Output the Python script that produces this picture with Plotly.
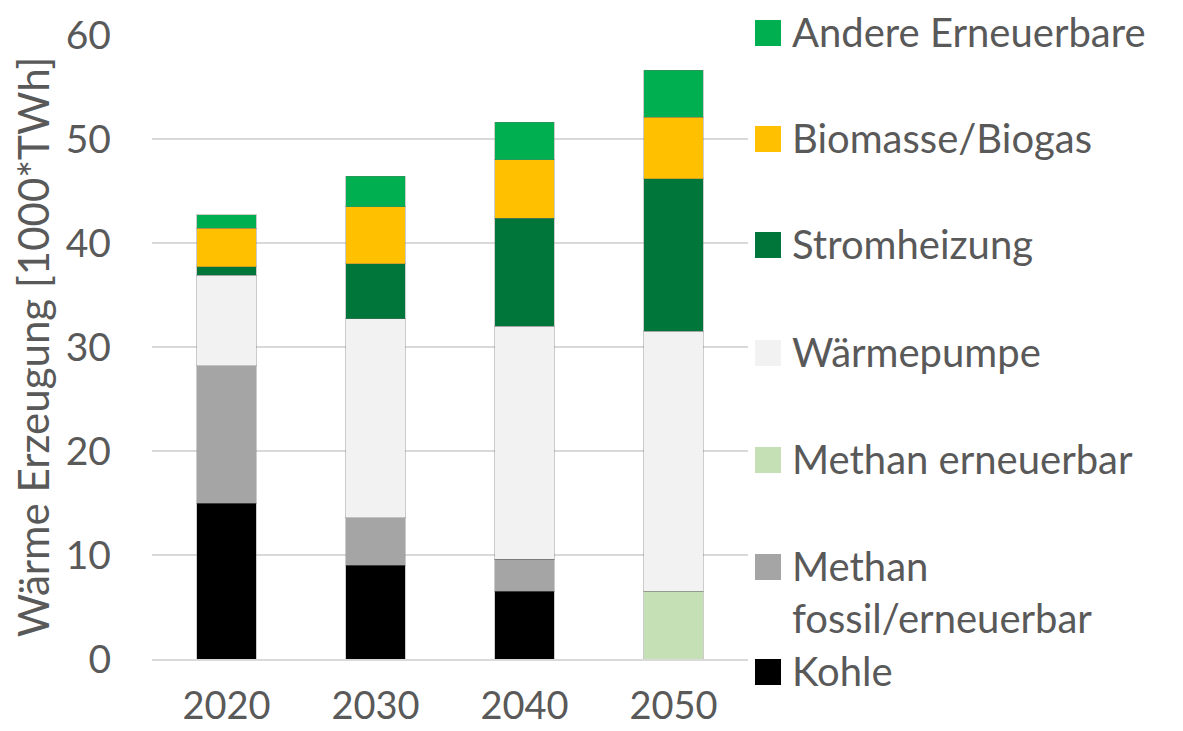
import plotly.graph_objects as go

years = ["2020", "2030", "2040", "2050"]
kohle = [15.0, 9.0, 6.5, 0.0]
methan_fossil = [13.2, 4.6, 3.1, 0.0]
methan_erneuerbar = [0.0, 0.0, 0.0, 6.5]
waermepumpe = [8.7, 19.1, 22.4, 25.0]
stromheizung = [0.8, 5.3, 10.4, 14.7]
biomasse = [3.7, 5.5, 5.6, 5.9]
andere = [1.3, 2.9, 3.6, 4.5]

series = [
    ("Kohle", kohle, "#000000"),
    ("Methan<br>fossil/erneuerbar", methan_fossil, "#A5A5A5"),
    ("Methan erneuerbar", methan_erneuerbar, "#C5E0B4"),
    ("Wärmepumpe", waermepumpe, "#F2F2F2"),
    ("Stromheizung", stromheizung, "#00763A"),
    ("Biomasse/Biogas", biomasse, "#FFC000"),
    ("Andere Erneuerbare", andere, "#00B050"),
]
# legend rows (top to bottom), vertical page-pixel centres of the first text line
legend_rows_y = [33, 139, 245, 353, 460, 567, 672]

# the html page has an 8px body margin -> figure is offset by 8px
OFF = 8
W_FIG, H_FIG = 1175, 723
L, R, T, B = 144, 435, 27, 72
PW, PH = W_FIG - L - R, H_FIG - T - B
FONT = "Lato, 'Open Sans', sans-serif"
GREY = "#595959"

def px(x):
    return (x - OFF - L) / PW

def py(y):
    return 1 - (y - OFF - T) / PH

fig = go.Figure()
for name, vals, col in series:
    fig.add_trace(go.Bar(
        x=years, y=vals, name=name.replace("<br>", " "),
        marker=dict(color=col, line=dict(color="rgba(110,110,110,0.35)", width=1)),
        showlegend=False,
    ))

# manual legend (large square swatches like the original)
shapes = []
annotations = []
for (name, vals, col), yc in zip(reversed(series), legend_rows_y):
    shapes.append(dict(type="rect", xref="paper", yref="paper",
                       x0=px(755), x1=px(781), y0=py(yc + 13), y1=py(yc - 13),
                       fillcolor=col, line=dict(width=0)))
    annotations.append(dict(xref="paper", yref="paper", x=px(790), y=py(yc - 27),
                            xanchor="left", yanchor="top", align="left",
                            text=name, showarrow=False,
                            font=dict(family=FONT, size=40, color=GREY)))

fig.update_layout(
    barmode="stack",
    bargap=0.6,
    width=W_FIG, height=H_FIG,
    margin=dict(l=L, r=R, t=T, b=B, autoexpand=False),
    plot_bgcolor="white", paper_bgcolor="white",
    font=dict(family=FONT, size=39, color=GREY),
    showlegend=False,
    shapes=shapes,
    annotations=annotations,
    yaxis=dict(
        range=[0, 60], dtick=10, showgrid=True, gridcolor="#D9D9D9", gridwidth=2,
        zeroline=False, showline=False, ticklabelstandoff=40, automargin=False,
        title=dict(text="Wärme Erzeugung [1000*TWh]", font=dict(size=42, color=GREY), standoff=3),
        tickfont=dict(size=39, color=GREY),
    ),
    xaxis=dict(
        showline=True, linecolor="#D9D9D9", linewidth=2, automargin=False,
        tickfont=dict(size=38, color=GREY), ticklabelstandoff=12,
    ),
)

fig.write_html("out.html")
